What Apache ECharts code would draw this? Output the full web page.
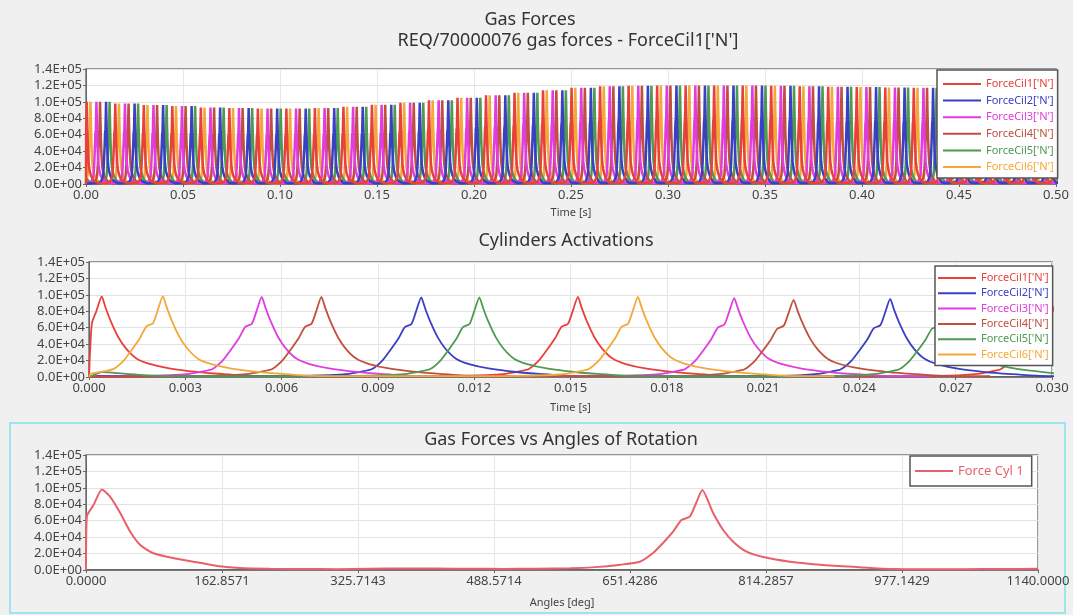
<!DOCTYPE html>
<html><head><meta charset="utf-8">
<script src="https://cdn.jsdelivr.net/npm/echarts@6/dist/echarts.min.js"></script>
<style>html,body{margin:0;padding:0;background:#f0f0f0;}#c{width:1073px;height:615px;}</style>
</head><body><div id="c"></div>
<script>
// ---- data ----
const cylNames = ["ForceCil1['N']", "ForceCil2['N']", "ForceCil3['N']", "ForceCil4['N']", "ForceCil5['N']", "ForceCil6['N']"];
const cylColors = ['#e8413c', '#3a3fc4', '#e03ce0', '#c0503c', '#4e9a50', '#f4a83a'];

// pulse shape (angle relative to peak [deg], fraction of peak) read from the second peak of the bottom chart
const pulseDeg = [-200, -140, -110, -90, -75, -59, -47, -35, -25, -15, -8, 0, 6, 13, 25, 37, 53, 73, 105, 145, 185, 228, 300];
const pulseRel = [0.012, 0.022, 0.04, 0.07, 0.10, 0.21, 0.34, 0.48, 0.625, 0.665, 0.82, 1.0, 0.86, 0.71, 0.50, 0.355, 0.23, 0.162, 0.104, 0.063, 0.037, 0.015, 0.010];

// engine cycle (720 deg) duration [s]
const cyclePeriod = 0.0147;

// first firing time of each cylinder [s] (Cil1..Cil6)
const firstPeakTime = [0.000395, 0.01035, 0.00538, 0.00724, 0.01216, 0.0023];

// peak force per engine cycle in the top chart [N]
const cycleAmp = [100000, 98000, 96000, 95000, 93000, 92500, 92000, 92000, 92500, 94000,
                  96500, 99000, 102000, 105000, 108000, 111000, 114000, 117000, 119000, 119500,
                  120000, 120000, 120000, 120000, 119500, 119000, 118500, 118000, 117500, 117000,
                  116500, 116000, 116000, 115500, 115500];

// middle chart: peak times [s] and peak forces [N] per cylinder
const actPeakTimes = [
  [0.000395, 0.01523, 0.02993],
  [-0.00435, 0.01035, 0.02496],
  [0.00538, 0.0201],
  [0.00724, 0.02195],
  [-0.00254, 0.01216, 0.02677],
  [0.0023, 0.0171]
];
const actPeakForces = [
  [98000, 97500, 95000],
  [96000, 97000, 95000],
  [97500, 96000],
  [97500, 94000],
  [96000, 97000, 94000],
  [98500, 97500]
];

// bottom chart: Force Cyl 1 vs angle
const angleDeg = [0, 1, 9, 19, 29, 41, 53, 65, 80, 104, 136, 160, 184, 220, 260, 300, 340, 380, 420, 460,
                  500, 540, 580, 610, 640, 663, 679, 691, 703, 713, 723, 730, 738, 751, 763, 775, 791, 811, 843, 883,
                  923, 966, 1000, 1050, 1100, 1140];
const forceCyl1 = [0, 65000, 79000, 98000, 89000, 69400, 46600, 30400, 20700, 14600, 8900, 4500, 2400, 1500, 1200, 1000, 1500, 1800, 1700, 1500,
                   1300, 1500, 2000, 3500, 6500, 10000, 20700, 32900, 46600, 60900, 64900, 80000, 97400, 69400, 48700, 34500, 22300, 15800, 10100, 6100,
                   3600, 1200, 1000, 1000, 1200, 1500];

// ---- build series points from the arrays ----
const secPerDeg = cyclePeriod / 720;
function buildPulses(peaks, amps, tMax) {
  const pts = [[0, 0]];
  for (let i = 0; i < peaks.length; i++) {
    for (let j = 0; j < pulseDeg.length; j++) {
      const t = peaks[i] + pulseDeg[j] * secPerDeg;
      if (t > 0 && t <= tMax + 0.002) pts.push([t, amps[i] * pulseRel[j]]);
    }
  }
  return pts;
}
const topSeries = cylNames.map((n, c) => {
  const peaks = [], amps = [];
  for (let k = -1; k < cycleAmp.length; k++) {
    peaks.push(firstPeakTime[c] + k * cyclePeriod);
    amps.push(cycleAmp[Math.max(k, 0)]);
  }
  return buildPulses(peaks, amps, 0.5);
});
const midSeries = cylNames.map((n, c) => buildPulses(actPeakTimes[c], actPeakForces[c], 0.03));
const botSeries = angleDeg.map((a, i) => [a, forceCyl1[i]]);

// ---- chart ----
function sci(v) {
  if (v === 0) return '0.0E+00';
  const e = Math.floor(Math.log10(v) + 1e-9);
  const m = v / Math.pow(10, e);
  return m.toFixed(1) + 'E+' + (e < 10 ? '0' : '') + e;
}
const FONT = 'Noto Sans';
const labelStyle = { color: '#444', fontSize: 13, fontFamily: FONT };
function yAxis(gi) {
  return {
    type: 'value', gridIndex: gi, min: 0, max: 140000, interval: 20000,
    axisLine: { show: true, lineStyle: { color: '#666', width: 1 } },
    axisTick: { show: true, length: 3, lineStyle: { color: '#666' } },
    axisLabel: Object.assign({ formatter: sci, margin: 4 }, labelStyle),
    splitLine: { show: true, lineStyle: { color: '#e2e2e2', width: 1 } }
  };
}
function xAxis(gi, max, interval, digits, name, gap) {
  return {
    type: 'value', gridIndex: gi, min: 0, max: max, interval: interval,
    name: name, nameLocation: 'middle', nameGap: gap,
    nameTextStyle: { color: '#444', fontSize: 11, fontFamily: FONT },
    axisLine: { show: true, onZero: false, lineStyle: { color: '#555', width: 1.5 } },
    axisTick: { show: true, length: 3, lineStyle: { color: '#666' } },
    axisLabel: Object.assign({ formatter: v => v.toFixed(digits), margin: 5, showMaxLabel: true }, labelStyle),
    splitLine: { show: true, lineStyle: { color: '#e6e6e6', width: 1 } }
  };
}
function legend(left, top, names, colors, gap, fs, lh, pad) {
  return {
    orient: 'vertical', left: left, top: top, padding: pad, itemGap: gap,
    itemWidth: 38, itemHeight: 2, icon: 'rect',
    backgroundColor: '#fff', borderColor: '#555', borderWidth: 1.5,
    selectedMode: false,
    textStyle: { fontSize: fs, fontFamily: FONT, lineHeight: lh },
    data: names.map((n, i) => ({ name: n, textStyle: { color: colors[i] } }))
  };
}
const series = [];
// top chart: Cil1 drawn last (on top)
for (let i = topSeries.length - 1; i >= 0; i--) {
  series.push({ type: 'line', name: cylNames[i], xAxisIndex: 0, yAxisIndex: 0, data: topSeries[i], showSymbol: false, symbol: 'none', lineStyle: { color: cylColors[i], width: 2.5 }, itemStyle: { color: cylColors[i] }, animation: false });
}
midSeries.forEach((d, i) => series.push({ type: 'line', name: cylNames[i], xAxisIndex: 1, yAxisIndex: 1, data: d, showSymbol: false, symbol: 'none', smooth: 0.2, lineStyle: { color: cylColors[i], width: 1.8 }, itemStyle: { color: cylColors[i] }, animation: false }));
series.push({ type: 'line', name: 'Force Cyl 1', xAxisIndex: 2, yAxisIndex: 2, data: botSeries, showSymbol: false, symbol: 'none', smooth: 0.2, lineStyle: { color: '#e8606a', width: 2 }, itemStyle: { color: '#e8606a' }, animation: false });

const titleStyle = { fontSize: 18, fontWeight: 'normal', color: '#333', fontFamily: FONT };
const chart = echarts.init(document.getElementById('c'), null, { renderer: 'canvas' });
chart.setOption({
  animation: false,
  backgroundColor: '#f0f0f0',
  textStyle: { fontFamily: FONT },
  title: [
    { text: 'Gas Forces', left: 530, top: 11, textAlign: 'center', padding: 0, textStyle: titleStyle },
    { text: "REQ/70000076 gas forces - ForceCil1['N']", left: 568, top: 32, textAlign: 'center', padding: 0, textStyle: titleStyle },
    { text: 'Cylinders Activations', left: 566, top: 232, textAlign: 'center', padding: 0, textStyle: titleStyle },
    { text: 'Gas Forces vs Angles of Rotation', left: 561, top: 431, textAlign: 'center', padding: 0, textStyle: titleStyle }
  ],
  legend: [
    legend(937, 70, cylNames, cylColors, 4.6, 11, 12, [8, 4, 5, 6]),
    legend(935, 266, cylNames, cylColors, 3.3, 11, 12, [6, 4, 5, 3]),
    legend(910, 456, ['Force Cyl 1'], ['#e8606a'], 4, 13, 14, [8, 8, 8, 5])
  ],
  grid: [
    { left: 86, top: 69, width: 970, height: 115, show: true, backgroundColor: '#fff', borderColor: '#777', borderWidth: 1.5 },
    { left: 89, top: 262, width: 963, height: 115, show: true, backgroundColor: '#fff', borderColor: '#777', borderWidth: 1.5 },
    { left: 86, top: 455, width: 952, height: 115, show: true, backgroundColor: '#fff', borderColor: '#777', borderWidth: 1.5 }
  ],
  xAxis: [
    xAxis(0, 0.5, 0.05, 2, 'Time [s]', 23),
    xAxis(1, 0.03, 0.003, 3, 'Time [s]', 25),
    xAxis(2, 1140, 1140 / 7, 4, 'Angles [deg]', 27)
  ],
  yAxis: [yAxis(0), yAxis(1), yAxis(2)],
  graphic: [
    { type: 'rect', shape: { x: 10, y: 423, width: 1055, height: 190 }, style: { fill: 'none', stroke: '#9fe3ec', lineWidth: 2 }, silent: true }
  ],
  series: series
});
</script></body></html>
